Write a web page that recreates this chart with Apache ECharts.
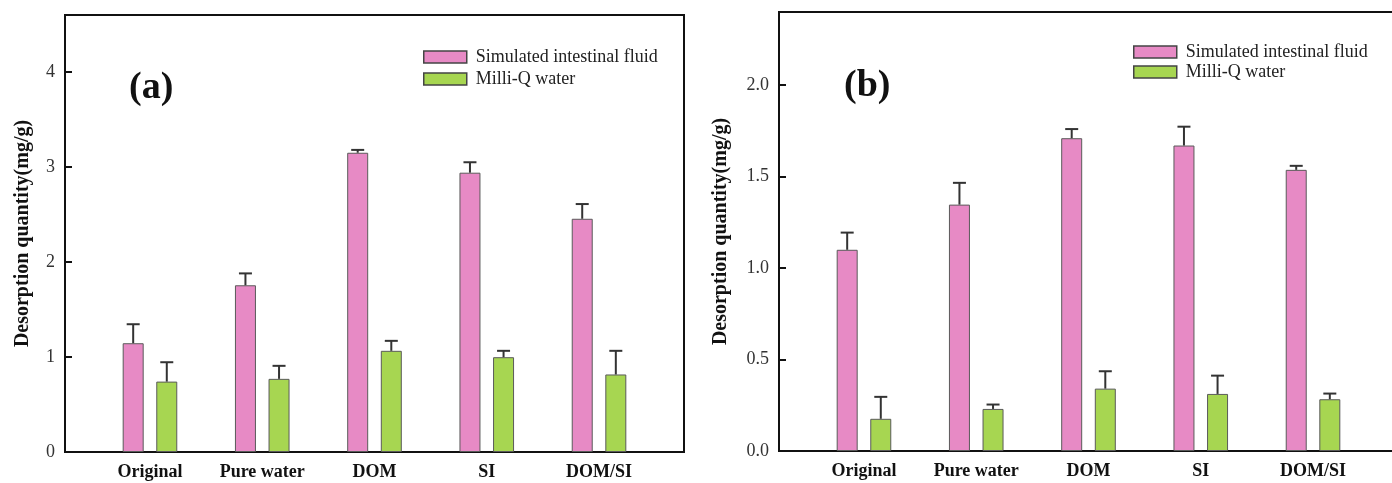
<!DOCTYPE html>
<html>
<head>
<meta charset="utf-8">
<script src="https://cdn.jsdelivr.net/npm/echarts@6/dist/echarts.min.js"></script>
<style>
  html, body { margin: 0; padding: 0; background: #fff; }
  #chart { width: 1392px; height: 483px; }
</style>
</head>
<body>
<div id="chart"></div>
<script>
// ---------- data ----------
const categories = ['Original', 'Pure water', 'DOM', 'SI', 'DOM/SI'];
const seriesNames = ['Simulated intestinal fluid', 'Milli-Q water'];

// panel (a)
const aSimMean = [1.145, 1.755, 3.15, 2.94, 2.455];
const aSimSD   = [0.20, 0.125, 0.03, 0.11, 0.155];
const aMqMean  = [0.741, 0.77, 1.065, 0.998, 0.816];
const aMqSD    = [0.204, 0.137, 0.105, 0.067, 0.249];
const aTicks   = [0, 1, 2, 3, 4];

// panel (b)
const bSimMean = [1.10, 1.347, 1.71, 1.67, 1.537];
const bSimSD   = [0.094, 0.119, 0.05, 0.103, 0.022];
const bMqMean  = [0.176, 0.23, 0.341, 0.312, 0.283];
const bMqSD    = [0.12, 0.024, 0.095, 0.10, 0.031];
const bTicks   = [0, 0.5, 1.0, 1.5, 2.0];

// ---------- styles ----------
const FONT = "'Liberation Serif', 'Times New Roman', serif";
const PINK = '#E78AC5';
const GREEN = '#A7D651';
const BAR_W = 21;
const BAR_GAP = 0.6;
const HALF_OFF = BAR_W * (1 + BAR_GAP) / 2;
const catIdx = categories.map((c, i) => i + 1);

function barData(means) { return means.map((v, i) => [catIdx[i], v]); }
function errData(means, sds) { return means.map((v, i) => [catIdx[i], v, v + sds[i]]); }

function errSeries(name, means, sds, axisIdx, side) {
  return {
    type: 'custom',
    name: name + ' err',
    xAxisIndex: axisIdx, yAxisIndex: axisIdx,
    z: 5,
    silent: true,
    encode: { x: 0, y: [1, 2] },
    data: errData(means, sds),
    renderItem: function (params, api) {
      const p0 = api.coord([api.value(0), api.value(1)]);
      const p1 = api.coord([api.value(0), api.value(2)]);
      const x = p0[0] + side * HALF_OFF;
      const capHalf = 6.5;
      const st = { stroke: '#333', lineWidth: 2 };
      return {
        type: 'group',
        children: [
          { type: 'line', shape: { x1: x, y1: p0[1], x2: x, y2: p1[1] }, style: st },
          { type: 'line', shape: { x1: x - capHalf, y1: p1[1], x2: x + capHalf, y2: p1[1] }, style: st }
        ]
      };
    }
  };
}

function xAxisCfg(gridIndex) {
  return {
    type: 'value', gridIndex: gridIndex,
    min: 0.243, max: 5.757,
    splitLine: { show: false },
    axisLine: { show: true, onZero: false, lineStyle: { color: '#111', width: 2 } },
    axisTick: { show: false },
    axisLabel: {
      customValues: catIdx,
      formatter: v => categories[Math.round(v) - 1] || '',
      fontFamily: FONT, fontWeight: 'bold', fontSize: 18, color: '#111', margin: 11
    }
  };
}

function yAxisCfg(gridIndex, max, ticks, digits, nameGap) {
  return {
    type: 'value', gridIndex: gridIndex,
    min: 0, max: max,
    name: 'Desorption quantity(mg/g)',
    nameLocation: 'middle', nameGap: nameGap,
    nameTextStyle: { fontFamily: FONT, fontWeight: 'bold', fontSize: 20, color: '#111' },
    splitLine: { show: false },
    axisLine: { show: true, lineStyle: { color: '#111', width: 2 } },
    axisTick: { show: true, inside: true, length: 7, customValues: ticks, lineStyle: { color: '#111', width: 2 } },
    axisLabel: {
      customValues: ticks,
      formatter: v => v.toFixed(digits),
      fontFamily: FONT, fontSize: 18, color: '#333', margin: 10
    }
  };
}

function barSeries(name, color, means, axisIdx) {
  return {
    type: 'bar', name: name,
    xAxisIndex: axisIdx, yAxisIndex: axisIdx,
    barWidth: BAR_W, barGap: (BAR_GAP * 100) + '%',
    itemStyle: { color: color, borderColor: '#5a5a5a', borderWidth: 1 },
    data: barData(means)
  };
}

function legendCfg(left, top, gap) {
  return {
    left: left, top: top, orient: 'vertical',
    icon: 'rect', itemWidth: 43, itemHeight: 12, itemGap: gap,
    data: seriesNames,
    itemStyle: { borderColor: '#444', borderWidth: 1.5 },
    textStyle: { fontFamily: FONT, fontSize: 18, color: '#222', lineHeight: 18, padding: [0, 0, 0, 4] },
    selectedMode: false
  };
}

const chart = echarts.init(document.getElementById('chart'), null, { renderer: 'canvas' });
chart.setOption({
  backgroundColor: '#fff',
  animation: false,
  title: [
    { text: '(a)', left: 124, top: 64, textStyle: { fontFamily: FONT, fontWeight: 'bold', fontSize: 38, color: '#111' } },
    { text: '(b)', left: 839, top: 62, textStyle: { fontFamily: FONT, fontWeight: 'bold', fontSize: 38, color: '#111' } }
  ],
  legend: [legendCfg(418, 43, 4), legendCfg(1128, 38, 2)],
  grid: [
    { left: 65, top: 15, width: 619, height: 437, show: true, borderColor: '#111', borderWidth: 2, containLabel: false, outerBoundsMode: 'none' },
    { left: 779, top: 12, width: 619, height: 439, show: true, borderColor: '#111', borderWidth: 2, containLabel: false, outerBoundsMode: 'none' }
  ],
  xAxis: [xAxisCfg(0), xAxisCfg(1)],
  yAxis: [yAxisCfg(0, 4.6, aTicks, 0, 32), yAxisCfg(1, 2.4, bTicks, 1, 48)],
  series: [
    barSeries(seriesNames[0], PINK, aSimMean, 0),
    barSeries(seriesNames[1], GREEN, aMqMean, 0),
    errSeries(seriesNames[0], aSimMean, aSimSD, 0, -1),
    errSeries(seriesNames[1], aMqMean, aMqSD, 0, 1),
    barSeries(seriesNames[0], PINK, bSimMean, 1),
    barSeries(seriesNames[1], GREEN, bMqMean, 1),
    errSeries(seriesNames[0], bSimMean, bSimSD, 1, -1),
    errSeries(seriesNames[1], bMqMean, bMqSD, 1, 1)
  ]
});
</script>
</body>
</html>
